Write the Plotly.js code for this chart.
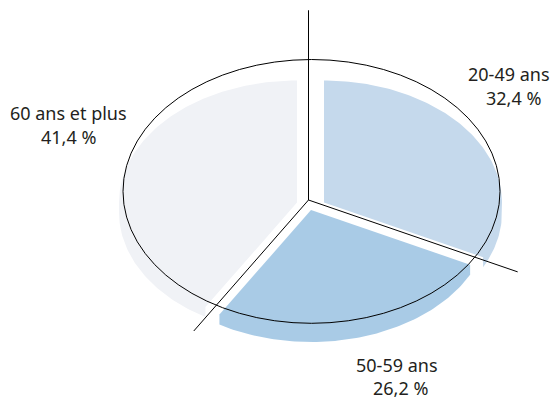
<!DOCTYPE html>
<html>
<head>
<meta charset="utf-8">
<script src="https://cdn.plot.ly/plotly-3.0.1.min.js"></script>
<style>
  html, body { margin: 0; padding: 0; background: #ffffff; }
  #chart { width: 552px; height: 397px; }
</style>
</head>
<body>
<div id="chart"></div>
<script>
// Répartition par âge (en %)
const categories = ['20-49 ans', '50-59 ans', '60 ans et plus'];
const shares = [32.4, 26.2, 41.4];
const sliceColors = ['#c5d9ec', '#a9cbe6', '#f0f2f6'];

// Pie geometry, in pixel units of the plotting area (y grows downward)
const pie = { cx: 310.5, cy: 202.5, rx: 178, ry: 122, depth: 10 };
const explode = [[13.5, 0], [0.5, 7.5], [-13.5, 0]];
const spokeCenter = [308.5, 200];
const spokeFlatten = 0.685;
const spokeLengths = [277, 234, 223];
const outline = { x0: 123, x1: 500, y0: 59.5, y1: 323.3 };
const labelPos = [
  [[508.7, 80], [513, 104.3]],
  [[397.3, 371], [400.8, 394]],
  [[68.5, 119], [68.5, 143.3]]
];

const total = shares.reduce((a, b) => a + b, 0);
const rad = d => d * Math.PI / 180;
const fmt = v => v.toFixed(1).replace('.', ',') + ' %';

// Boundary angles: start at 12 o'clock, go clockwise
const bounds = [90];
shares.forEach(s => bounds.push(bounds[bounds.length - 1] - 360 * s / total));

// Outline of one extruded slice: top face plus the visible part of its rim wall
function sliceOutline(vx, vy, a0, a1) {
  const top = a => [vx + pie.rx * Math.cos(rad(a)), vy - pie.ry * Math.sin(rad(a))];
  const low = a => { const p = top(a); return [p[0], p[1] + pie.depth]; };
  const isLow = a => Math.sin(rad(a)) < -1e-9;
  // sample angles, always including the rim extremes (multiples of 180°)
  const angles = [];
  const n = Math.max(8, Math.ceil(Math.abs(a1 - a0)));
  for (let i = 0; i <= n; i++) angles.push(a0 + (a1 - a0) * i / n);
  for (let k = Math.ceil(Math.min(a0, a1) / 180); k * 180 <= Math.max(a0, a1); k++) {
    const e = k * 180;
    if (e > Math.min(a0, a1) && e < Math.max(a0, a1)) angles.push(e);
  }
  angles.sort((p, q) => (a1 < a0 ? q - p : p - q));

  const pts = [[vx, vy]];
  if (isLow(a0)) pts.push(top(a0));
  let prevLow = isLow(a0);
  angles.forEach(a => {
    const onEdge = Math.abs(Math.sin(rad(a))) < 1e-9;
    if (onEdge) {
      const nextLow = !prevLow;
      if (nextLow) { pts.push(top(a)); pts.push(low(a)); }
      else { pts.push(low(a)); pts.push(top(a)); }
      prevLow = nextLow;
    } else {
      pts.push(isLow(a) ? low(a) : top(a));
      prevLow = isLow(a);
    }
  });
  if (isLow(a1)) pts.push(top(a1));
  pts.push([vx, vy]);
  return pts;
}

const traces = [];
// draw the large back slice first
[2, 0, 1].forEach(i => {
  const vx = pie.cx + explode[i][0];
  const vy = pie.cy + explode[i][1];
  const pts = sliceOutline(vx, vy, bounds[i], bounds[i + 1]);
  traces.push({
    type: 'scatter', mode: 'lines', fill: 'toself',
    x: pts.map(p => p[0]), y: pts.map(p => p[1]),
    fillcolor: sliceColors[i], line: { width: 0, color: sliceColors[i] },
    name: categories[i], hoverinfo: 'name'
  });
});

// spokes marking the slice boundaries
bounds.slice(0, 3).forEach((b, j) => {
  const a = rad(b);
  traces.push({
    type: 'scatter', mode: 'lines',
    x: [spokeCenter[0], spokeCenter[0] + spokeLengths[j] * Math.cos(a)],
    y: [spokeCenter[1], spokeCenter[1] - spokeLengths[j] * spokeFlatten * Math.sin(a)],
    line: { color: '#000000', width: 1 },
    hoverinfo: 'skip'
  });
});

const font = { family: 'Noto Sans, Liberation Sans, sans-serif', size: 18, color: '#231f20' };
const annotations = [];
categories.forEach((c, i) => {
  const texts = [c, fmt(shares[i])];
  texts.forEach((t, k) => {
    annotations.push({
      xref: 'x', yref: 'y', x: labelPos[i][k][0], y: labelPos[i][k][1] - 6.5,
      text: t, showarrow: false, xanchor: 'center', yanchor: 'middle',
      font: font
    });
  });
});

const layout = {
  width: 552, height: 397,
  margin: { l: 0, r: 0, t: 0, b: 0, pad: 0 },
  paper_bgcolor: '#ffffff', plot_bgcolor: '#ffffff',
  showlegend: false,
  xaxis: { range: [0, 552], visible: false, fixedrange: true },
  yaxis: { range: [397, 0], visible: false, fixedrange: true },
  shapes: [{
    type: 'circle', xref: 'x', yref: 'y',
    x0: outline.x0, x1: outline.x1, y0: outline.y0, y1: outline.y1,
    line: { color: '#000000', width: 1 }, layer: 'above'
  }],
  annotations: annotations
};

Plotly.newPlot('chart', traces, layout, { staticPlot: true, displayModeBar: false });
</script>
</body>
</html>
